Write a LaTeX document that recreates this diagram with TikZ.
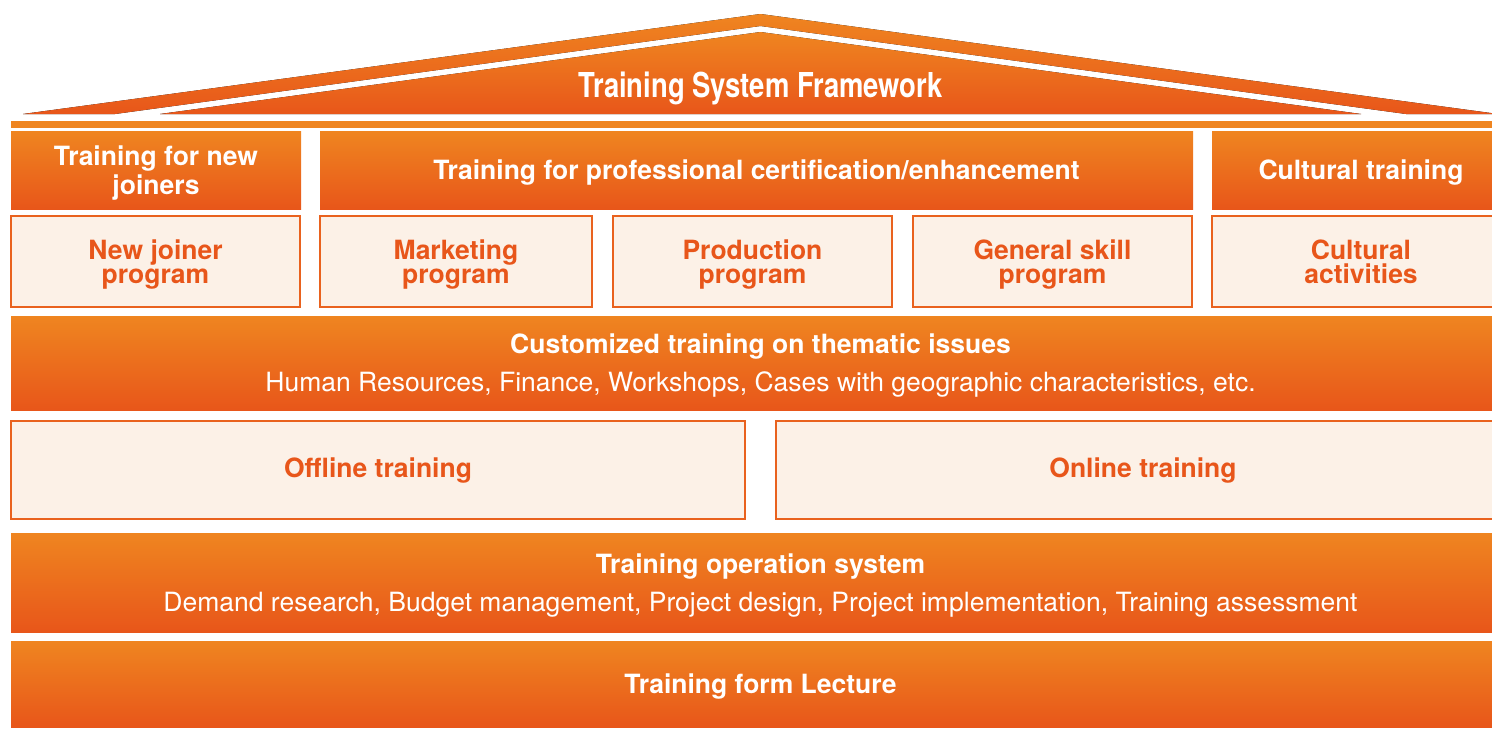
\documentclass[tikz,border=0pt]{standalone}
\usepackage{fontspec}
\setmainfont{TeX Gyre Heros}
\newfontfamily\condfont[FakeStretch=0.8]{TeX Gyre Heros}

\definecolor{orTop}{HTML}{EF8520}
\definecolor{orBot}{HTML}{E8561A}
\definecolor{paleFill}{HTML}{FCF1E7}
\definecolor{paleLine}{HTML}{E9621E}

\tikzset{
	orbox/.style={rectangle, inner sep=0pt, top color=orTop, bottom color=orBot, text=white, align=center, text depth=0pt, font=\bfseries\fontsize{26.5}{29}\selectfont},
	palebox/.style={rectangle, inner sep=0pt, fill=paleFill, draw=paleLine, line width=1.8pt, text=orBot, align=center, text depth=0pt, font=\bfseries\fontsize{26.5}{24}\selectfont}
}

\newcommand{\tsbox}[7]{
	\pgfmathsetmacro{\TBw}{#4-#3}
	\pgfmathsetmacro{\TBh}{#6-#5}
	\pgfmathsetmacro{\TBx}{0.5 * #3 + 0.5 * #4}
	\pgfmathsetmacro{\TBy}{0.5 * #5 + 0.5 * #6}
	\node[#1, minimum width=\TBw pt, minimum height=\TBh pt] (#2) at (\TBx, \TBy) {#7};
}
\newcommand{\subline}[1]{\\[9pt]{\mdseries\fontsize{26.5}{29}\selectfont #1}}

\begin{document}
\begin{tikzpicture}[x=1pt, y=-1pt]
\useasboundingbox (0,0) rectangle (1492,736);

\pgfmathsetmacro{\tsL}{11}
\pgfmathsetmacro{\tsR}{1510}
\pgfmathsetmacro{\tsMid}{760.5}

\fill[top color=orTop, bottom color=orBot] (23,114) -- (\tsMid,14) -- (1498,114) -- (1406,114) -- (\tsMid,26) -- (115,114) -- cycle;
\fill[top color=orTop, bottom color=orBot] (160,114) -- (\tsMid,32) -- (1361,114) -- cycle;
\node[text=white, font=\condfont\bfseries\fontsize{34.3}{34}\selectfont] (title) at (\tsMid,88) {Training System Framework};
\fill[orTop] (\tsL,121) rectangle (\tsR,128);

\tsbox{orbox}{newjoin}{\tsL}{301}{131}{209}{Training for new\\joiners}
\tsbox{orbox}{profcert}{320}{1193}{131}{209}{Training for professional certification/enhancement}
\tsbox{orbox}{culture}{1212}{\tsR}{131}{209}{Cultural training}

\tsbox{palebox}{newprog}{\tsL}{300}{216}{307}{New joiner\\program}
\tsbox{palebox}{market}{320}{592}{216}{307}{Marketing\\program}
\tsbox{palebox}{product}{613}{892}{216}{307}{Production\\program}
\tsbox{palebox}{general}{913}{1192}{216}{307}{General skill\\program}
\tsbox{palebox}{activity}{1212}{\tsR}{216}{307}{Cultural\\activities}

\tsbox{orbox}{custom}{\tsL}{\tsR}{316}{410}{Customized training on thematic issues\subline{Human Resources, Finance, Workshops, Cases with geographic characteristics, etc.}}

\tsbox{palebox, text depth=5.5pt}{offline}{\tsL}{745}{421}{519}{Offline training}
\tsbox{palebox, text depth=5.5pt}{online}{776}{\tsR}{421}{519}{Online training}

\tsbox{orbox}{operation}{\tsL}{\tsR}{533}{632}{Training operation system\subline{Demand research, Budget management, Project design, Project implementation, Training assessment}}

\tsbox{orbox}{lecture}{\tsL}{\tsR}{641}{727}{Training form Lecture}
\end{tikzpicture}
\end{document}
